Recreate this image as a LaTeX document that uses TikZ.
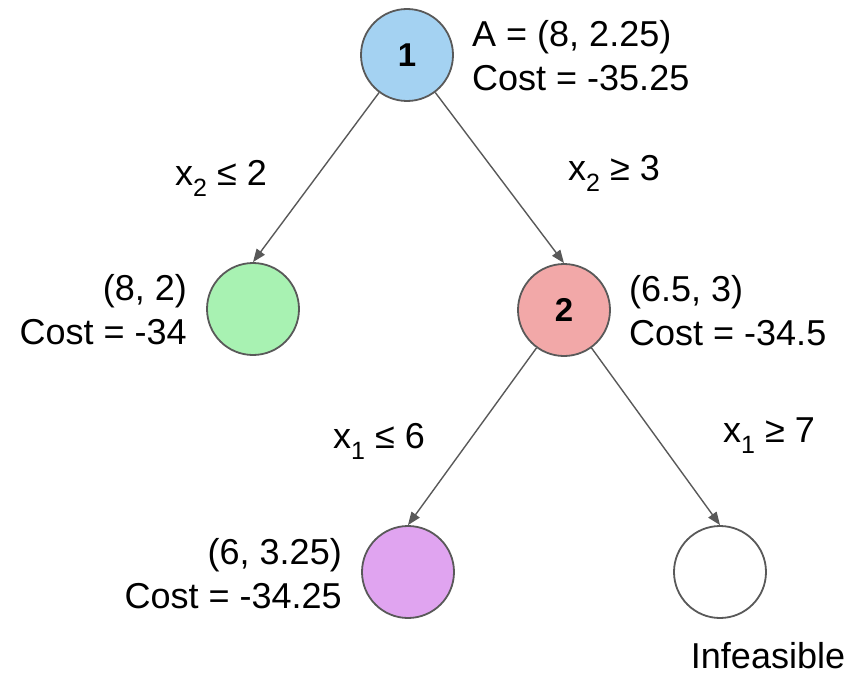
\documentclass[tikz,border=0pt]{standalone}
\usepackage{fontspec}
\setmainfont{Liberation Sans}
\usetikzlibrary{arrows.meta}
\definecolor{bordergray}{HTML}{595959}
\definecolor{bluefill}{HTML}{A4D2F2}
\definecolor{greenfill}{HTML}{A8F2B2}
\definecolor{redfill}{HTML}{F2A8A8}
\definecolor{purplefill}{HTML}{E0A4F0}
\newcommand{\subx}[1]{x\raisebox{-0.32em}{\fontsize{25}{25}\selectfont #1}}
\begin{document}
\begin{tikzpicture}[x=1pt,y=1pt,
  treenode/.style={circle, draw=bordergray, line width=1.8pt, minimum size=92pt, inner sep=0pt, font=\fontsize{33}{35}\selectfont\bfseries},
  info/.style={font=\fontsize{36}{44}\selectfont, inner sep=0pt},
  branch/.style={draw=bordergray, line width=1.4pt, -{Triangle[length=13pt,width=10pt]}},
]
\useasboundingbox (0,0) rectangle (854,-677);
\node[treenode, fill=bluefill] (n1) at (407,-55) {1};
\node[treenode, fill=greenfill] (n3) at (253,-309) {};
\node[treenode, fill=redfill] (n2) at (564,-310) {2};
\node[treenode, fill=purplefill] (n4) at (408,-572) {};
\node[treenode, fill=white] (n5) at (720,-572) {};

\node[info, align=left, anchor=west] (l1) at (472,-56) {A = (8, 2.25)\\Cost = -35.25};
\node[info, align=right, anchor=east] (l3) at (187,-310) {(8, 2)\\Cost = -34};
\node[info, align=left, anchor=west] (l2) at (629,-311) {(6.5, 3)\\Cost = -34.5};
\node[info, align=right, anchor=east] (l4) at (342,-574) {(6, 3.25)\\Cost = -34.25};
\node[info, anchor=base] (l5) at (768,-668) {Infeasible};

\draw[branch] (n1) -- (n3.north);
\draw[branch] (n1) -- (n2.north);
\draw[branch] (n2) -- (n4.north);
\draw[branch] (n2) -- (n5.north);

\node[info, anchor=base west] (e1) at (175,-185) {\subx{2} ≤ 2};
\node[info, anchor=base west] (e2) at (568,-180) {\subx{2} ≥ 3};
\node[info, anchor=base west] (e3) at (333,-448) {\subx{1} ≤ 6};
\node[info, anchor=base west] (e4) at (723,-442) {\subx{1} ≥ 7};
\end{tikzpicture}
\end{document}
